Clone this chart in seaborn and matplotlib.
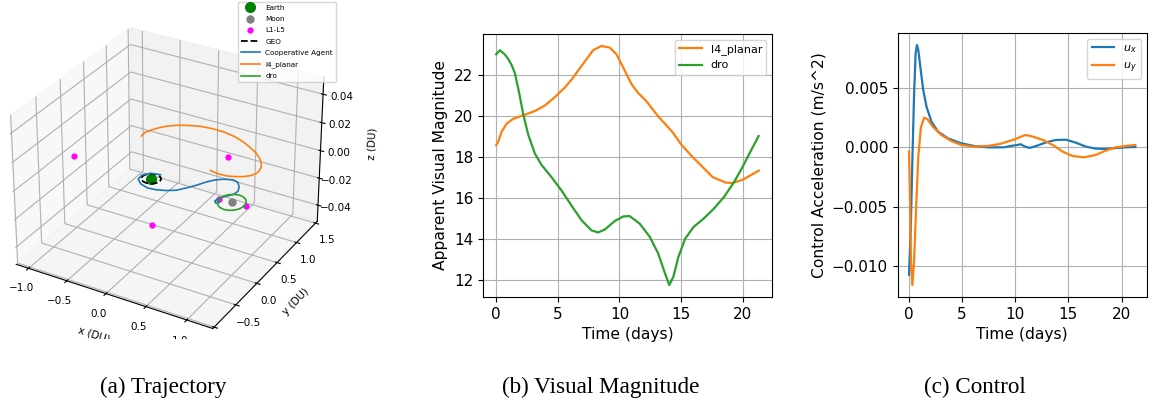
import matplotlib
matplotlib.use("Agg")
import matplotlib.pyplot as plt
from matplotlib.patches import Rectangle
import numpy as np
import pandas as pd
import seaborn as sns

# ---------------- data: (b) visual magnitude ----------------
t_l4 = [0.0, 0.16, 0.43, 0.84, 1.38, 2.19, 3.14, 3.95, 4.76, 5.57, 6.16, 6.7, 7.25, 7.86,
        8.54, 9.22, 9.76, 10.3, 10.97, 11.5, 12.13, 13.1, 14.3, 15.0, 15.9, 16.47, 17.56,
        18.64, 19.19, 20.0, 20.8, 21.3]
mag_l4 = [18.56, 18.72, 19.2, 19.61, 19.85, 20.02, 20.23, 20.5, 20.91, 21.38, 21.8, 22.25,
          22.7, 23.2, 23.41, 23.33, 23.0, 22.36, 21.55, 21.12, 20.75, 20.0, 19.2, 18.6,
          18.0, 17.66, 17.0, 16.73, 16.72, 16.88, 17.15, 17.32]

t_dro = [0.0, 0.3, 0.7, 1.0, 1.24, 1.51, 1.84, 2.19, 2.59, 3.14, 3.68, 4.49, 5.3, 6.1,
         6.92, 7.73, 8.27, 8.81, 9.62, 10.3, 10.82, 11.64, 12.46, 13.14, 13.69, 14.04,
         14.37, 14.78, 15.33, 16.01, 16.83, 17.65, 18.47, 19.29, 19.97, 20.66, 21.28]
mag_dro = [23.0, 23.2, 23.0, 22.75, 22.5, 22.1, 21.2, 20.1, 19.1, 18.15, 17.6, 17.0, 16.35,
           15.62, 14.9, 14.4, 14.3, 14.44, 14.86, 15.08, 15.1, 14.73, 14.08, 13.27, 12.3,
           11.73, 12.14, 13.11, 14.0, 14.57, 14.98, 15.46, 16.03, 16.76, 17.49, 18.3, 19.01]

# ---------------- data: (c) control ----------------
t_ux = [0.0, 0.16, 0.31, 0.47, 0.62, 0.75, 0.87, 1.06, 1.34, 1.65, 2.11, 2.73, 3.66, 4.9,
        6.15, 7.39, 8.94, 9.47, 10.2, 10.5, 10.87, 11.34, 11.96, 12.9, 13.83, 14.77,
        15.7, 16.64, 17.57, 18.5, 19.44, 20.37, 21.3]
ux = [-0.0107, -0.0070, -0.0013, 0.0043, 0.0079, 0.0086, 0.0082, 0.0068, 0.0048, 0.0034,
      0.00216, 0.00132, 0.00076, 0.00034, 0.00011, 0.0, 0.0, 0.0001, 0.0002, 0.00026,
      0.00008, -0.00005, 0.00011, 0.00042, 0.00062, 0.00064, 0.00039, 0.00006, -0.00011,
      -0.00014, -0.00006, 0.0, 0.00003]

t_uy = [0.0, 0.09, 0.19, 0.31, 0.47, 0.65, 0.87, 1.12, 1.43, 1.74, 2.27, 3.04, 3.98, 4.9,
        6.15, 7.39, 8.54, 9.94, 10.56, 10.97, 11.65, 12.59, 13.52, 14.45, 15.39, 16.48,
        17.57, 18.5, 19.44, 20.37, 21.3]
uy = [-0.00036, -0.0041, -0.0097, -0.01157, -0.0097, -0.0055, -0.0008, 0.0017, 0.0025,
      0.00235, 0.0017, 0.00104, 0.00053, 0.0002, 0.00006, 0.00011, 0.00028, 0.00067,
      0.0009, 0.00104, 0.0009, 0.00062, 0.0002, -0.00036, -0.00073, -0.00084, -0.00064,
      -0.00028, 0.0, 0.00011, 0.0002]

# ---------------- data: (a) trajectory (DU, rotating frame, planar) ----------------
earth_x = [-0.012]
earth_y = [0.0]
moon_x = [0.988]
moon_y = [0.0]
lpt_x = [0.837, 1.156, -1.005, 0.488, 0.488]
lpt_y = [0.0, 0.0, 0.0, 0.866, -0.866]

geo_x = [0.098, 0.089, 0.066, 0.030, -0.012, -0.054, -0.090, -0.113, -0.122, -0.113,
         -0.090, -0.054, -0.012, 0.030, 0.066, 0.089, 0.098]
geo_y = [0.0, 0.042, 0.078, 0.101, 0.110, 0.101, 0.078, 0.042, 0.0, -0.042, -0.078,
         -0.101, -0.110, -0.101, -0.078, -0.042, 0.0]

agent_x = [0.032, -0.078, -0.142, -0.130, -0.056, 0.051, 0.152, 0.247, 0.346, 0.417,
           0.480, 0.545, 0.603, 0.675, 0.774, 0.846, 0.901, 0.936, 0.926, 0.870, 0.825,
           0.817, 0.847, 0.875]
agent_y = [0.131, 0.105, 0.014, -0.083, -0.157, -0.198, -0.185, -0.147, -0.083, 0.019,
           0.122, 0.253, 0.339, 0.400, 0.446, 0.418, 0.341, 0.249, 0.164, 0.079, 0.0,
           -0.070, -0.105, -0.075]

l4_x = [-0.596, -0.605, -0.570, -0.518, -0.456, -0.356, -0.242, -0.122, 0.012, 0.156,
        0.318, 0.464, 0.594, 0.709, 0.808, 0.874, 0.912, 0.930, 0.929, 0.896, 0.837,
        0.758, 0.673, 0.574, 0.461]
l4_y = [0.805, 0.904, 0.995, 1.095, 1.176, 1.261, 1.320, 1.366, 1.384, 1.383, 1.348,
        1.286, 1.207, 1.126, 1.028, 0.937, 0.855, 0.770, 0.708, 0.627, 0.566, 0.519,
        0.485, 0.479, 0.499]

dro_x = [1.138, 1.127, 1.094, 1.045, 0.988, 0.931, 0.882, 0.849, 0.838, 0.849, 0.882,
         0.931, 0.988, 1.045, 1.094, 1.127, 1.138]
dro_y = [0.0, 0.069, 0.127, 0.166, 0.18, 0.166, 0.127, 0.069, 0.0, -0.069, -0.127,
         -0.166, -0.18, -0.166, -0.127, -0.069, 0.0]

C0, C1, C2 = "#1f77b4", "#ff7f0e", "#2ca02c"

fig = plt.figure(figsize=(11.52, 4.08), dpi=100)

# ---------------- (a) 3D trajectory ----------------
ax3 = fig.add_axes([-0.00885, 0.1407, 0.3038, 0.8578], projection="3d")
ax3.plot(earth_x, earth_y, [0.0], linestyle="", marker="o", color="green", ms=7, label="Earth")
ax3.plot(moon_x, moon_y, [0.0], linestyle="", marker="o", color="gray", ms=5, label="Moon")
ax3.plot(lpt_x, lpt_y, [0.0] * len(lpt_x), linestyle="", marker="o", color="magenta",
         ms=3.5, label="L1-L5")
ax3.plot(geo_x, geo_y, [0.0] * len(geo_x), "k--", lw=1.3, label="GEO")
ax3.plot(agent_x, agent_y, [0.0] * len(agent_x), color=C0, lw=1.2, label="Cooperative Agent")
ax3.plot(l4_x, l4_y, [0.0] * len(l4_x), color=C1, lw=1.2, label="l4_planar")
ax3.plot(dro_x, dro_y, [0.0] * len(dro_x), color=C2, lw=1.2, label="dro")
ax3.set_xlabel("x (DU)", fontsize=7.5, labelpad=-1)
ax3.set_ylabel("y (DU)", fontsize=7.5, labelpad=-2)
ax3.set_zlabel("z (DU)", fontsize=7.5, labelpad=2)
ax3.tick_params(labelsize=7.5, pad=0)
h, l = ax3.get_legend_handles_labels()
fig.legend(h, l, loc="upper right", bbox_to_anchor=(336 / 1152, 1 - 2 / 408),
           fontsize=5.2, handlelength=2.6, borderaxespad=0, labelspacing=0.72)

# the source panel (a) is cropped just below its x-axis label
fig.patches.append(Rectangle((0, 1 - 372 / 408), 380 / 1152, 33.5 / 408,
                             transform=fig.transFigure, facecolor="white",
                             edgecolor="none", zorder=5))

# ---------------- (b) visual magnitude ----------------
axb = fig.add_axes([483 / 1152, 1 - 297 / 408, 289 / 1152, 263 / 408])
sns.lineplot(x=t_l4, y=mag_l4, ax=axb, color=C1, label="l4_planar", lw=1.6,
             sort=False, estimator=None)
sns.lineplot(x=t_dro, y=mag_dro, ax=axb, color=C2, label="dro", lw=1.6,
             sort=False, estimator=None)
axb.grid(True)
axb.set_xlabel("Time (days)", fontsize=11.2)
axb.set_ylabel("Apparent Visual Magnitude", fontsize=11.2)
axb.tick_params(labelsize=11)
axb.legend(loc="upper right", fontsize=8)

# ---------------- (c) control ----------------
axc = fig.add_axes([897.7 / 1152, 1 - 297 / 408, 249 / 1152, 264 / 408])
sns.lineplot(x=t_ux, y=ux, ax=axc, color=C0, label=r"$u_x$", lw=1.6,
             sort=False, estimator=None)
sns.lineplot(x=t_uy, y=uy, ax=axc, color=C1, label=r"$u_y$", lw=1.6,
             sort=False, estimator=None)
axc.grid(True)
axc.set_xlabel("Time (days)", fontsize=11.2)
axc.set_ylabel("Control Acceleration (m/s^2)", fontsize=11.2)
axc.tick_params(labelsize=11)
axc.legend(loc="upper right", fontsize=8)

# ---------------- captions ----------------
cap = dict(ha="center", va="center", family="Liberation Serif", fontsize=16.7)
fig.text(163 / 1152, 1 - 387 / 408, "(a) Trajectory", **cap)
fig.text(601 / 1152, 1 - 387 / 408, "(b) Visual Magnitude", **cap)
fig.text(975 / 1152, 1 - 387 / 408, "(c) Control", **cap)

fig.savefig("out.png", dpi=100)
